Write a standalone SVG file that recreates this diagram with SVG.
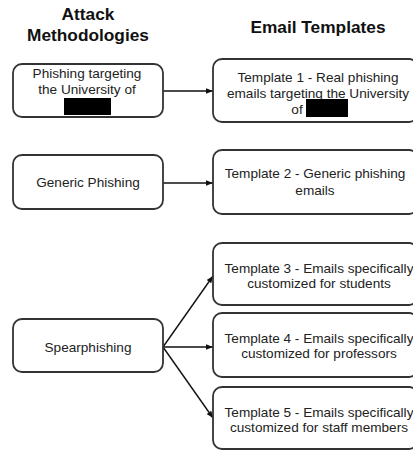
<svg xmlns="http://www.w3.org/2000/svg" width="413" height="451" viewBox="0 0 413 451">
<defs>
<style>
.box{fill:#fff;stroke:#333;stroke-width:1.8}
.t{font-family:"Liberation Sans",Arial,sans-serif;font-size:13.6px;fill:#222;text-anchor:middle}
.h{font-family:"Liberation Sans",Arial,sans-serif;font-size:17.3px;font-weight:bold;fill:#111;text-anchor:middle}
.c{stroke:#111;stroke-width:1.4;fill:none;marker-end:url(#ah)}
.red{fill:#000}
</style>
<marker id="ah" viewBox="0 0 10 10" refX="10" refY="5" markerWidth="7" markerHeight="7" markerUnits="userSpaceOnUse" orient="auto">
<path d="M0,1 L10,5 L0,9 z" fill="#111"/>
</marker>
</defs>
<rect width="413" height="451" fill="#fff"/>
<g id="headings">
<text class="h" x="88" y="20">Attack</text>
<text class="h" x="88" y="41">Methodologies</text>
<text class="h" x="318" y="33">Email Templates</text>
</g>
<g id="connectors">
<line class="c" x1="163" y1="91" x2="213" y2="91"/>
<line class="c" x1="163" y1="183" x2="213" y2="183"/>
<line class="c" x1="163" y1="347" x2="213" y2="276"/>
<line class="c" x1="163" y1="347" x2="213" y2="347"/>
<line class="c" x1="163" y1="347" x2="213" y2="418"/>
</g>
<g id="m1">
<rect class="box" x="13" y="64" width="150" height="53" rx="9"/>
<text class="t" x="87" y="78">Phishing targeting</text>
<text class="t" x="87" y="94">the University of</text>
<rect class="red" x="64" y="98" width="47" height="17"/>
</g>
<g id="m2">
<rect class="box" x="13" y="155" width="150" height="54" rx="9"/>
<text class="t" x="88" y="187">Generic Phishing</text>
</g>
<g id="m3">
<rect class="box" x="13" y="319" width="150" height="53" rx="9"/>
<text class="t" x="88" y="352">Spearphishing</text>
</g>
<g id="t1">
<rect class="box" x="213" y="59" width="205" height="63" rx="9"/>
<text class="t" x="318" y="82">Template 1 - Real phishing</text>
<text class="t" x="318" y="98">emails targeting the University</text>
<text class="t" x="297" y="114">of</text>
<rect class="red" x="306" y="99" width="42" height="18"/>
</g>
<g id="t2">
<rect class="box" x="213" y="150" width="205" height="64" rx="9"/>
<text class="t" x="315" y="178">Template 2 - Generic phishing</text>
<text class="t" x="315" y="195">emails</text>
</g>
<g id="t3">
<rect class="box" x="213" y="243" width="205" height="62" rx="9"/>
<text class="t" x="319" y="273">Template 3 - Emails specifically</text>
<text class="t" x="319" y="288">customized for students</text>
</g>
<g id="t4">
<rect class="box" x="213" y="313" width="205" height="64" rx="9"/>
<text class="t" x="319" y="343">Template 4 - Emails specifically</text>
<text class="t" x="319" y="358">customized for professors</text>
</g>
<g id="t5">
<rect class="box" x="213" y="387" width="205" height="62" rx="9"/>
<text class="t" x="319" y="417">Template 5 - Emails specifically</text>
<text class="t" x="319" y="432">customized for staff members</text>
</g>
</svg>
